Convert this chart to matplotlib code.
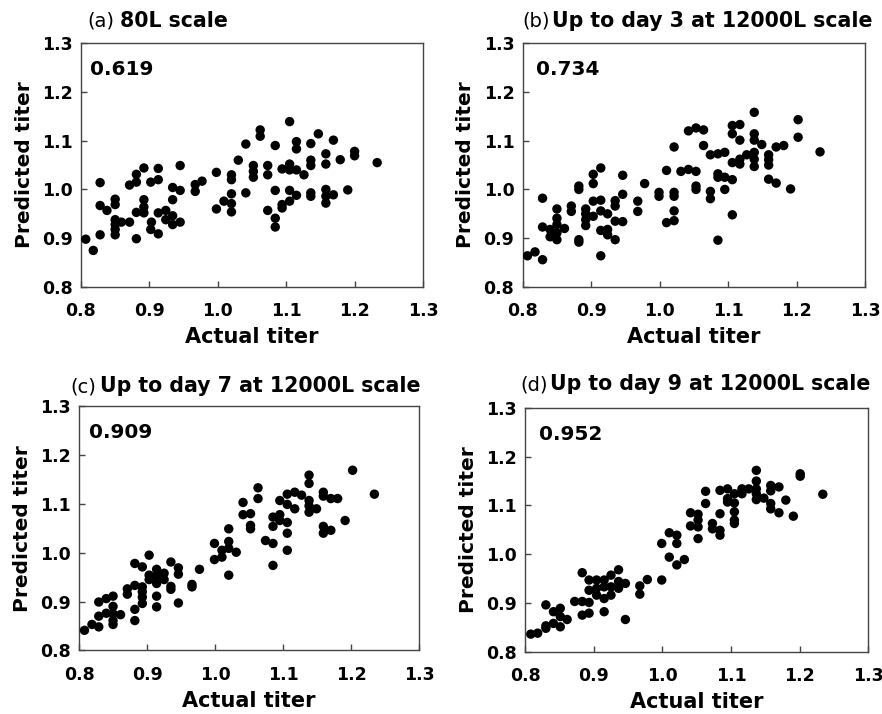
import matplotlib
matplotlib.use("Agg")
import matplotlib.pyplot as plt

plt.rcParams['font.family'] = ['DejaVu Sans']

# ---------------- data ----------------
a_actual = [0.807, 0.818, 0.828, 0.828, 0.828, 0.838, 0.850, 0.850, 0.850, 0.850, 0.850, 0.850,
            0.859, 0.871, 0.871, 0.881, 0.881, 0.881, 0.881, 0.892, 0.892, 0.892, 0.892, 0.902,
            0.903, 0.902, 0.913, 0.913, 0.913, 0.913, 0.924, 0.924, 0.934, 0.934, 0.934, 0.934,
            0.945, 0.945, 0.945, 0.967, 0.967, 0.977, 0.998, 0.998, 1.009, 1.020, 1.020, 1.020,
            1.020, 1.020, 1.030, 1.041, 1.041, 1.052, 1.052, 1.052, 1.062, 1.062, 1.073, 1.073,
            1.073, 1.084, 1.084, 1.084, 1.084, 1.094, 1.094, 1.094, 1.105, 1.105, 1.105, 1.105,
            1.105, 1.115, 1.115, 1.115, 1.115, 1.126, 1.136, 1.136, 1.136, 1.136, 1.136, 1.147,
            1.158, 1.158, 1.158, 1.158, 1.158, 1.169, 1.169, 1.179, 1.190, 1.200, 1.200, 1.233]
a_pred = [0.898, 0.875, 1.014, 0.967, 0.907, 0.957, 0.980, 0.969, 0.938, 0.928, 0.918, 0.907,
          0.933, 0.933, 1.009, 1.031, 1.015, 0.953, 0.899, 1.044, 0.979, 0.964, 0.952, 1.015,
          0.933, 0.918, 1.043, 1.020, 0.952, 0.909, 0.957, 0.938, 1.004, 0.979, 0.946, 0.928,
          1.049, 0.998, 0.933, 1.010, 0.996, 1.017, 1.035, 0.960, 0.976, 1.030, 1.020, 0.991,
          0.971, 0.954, 1.060, 1.093, 0.993, 1.049, 1.037, 1.025, 1.122, 1.109, 1.049, 1.030,
          0.957, 1.090, 0.998, 0.941, 0.923, 1.042, 0.969, 0.962, 1.139, 1.052, 1.040, 0.998,
          0.976, 1.098, 1.083, 1.040, 0.988, 1.030, 1.094, 1.060, 1.049, 0.993, 0.986, 1.114,
          1.073, 1.052, 1.000, 0.986, 0.972, 1.101, 0.989, 1.061, 0.999, 1.078, 1.069, 1.055]

b_actual = [0.807, 0.818, 0.829, 0.829, 0.829, 0.840, 0.840, 0.850, 0.850, 0.850, 0.850, 0.850,
            0.861, 0.871, 0.871, 0.882, 0.882, 0.882, 0.882, 0.892, 0.892, 0.892, 0.892, 0.903,
            0.903, 0.903, 0.903, 0.914, 0.914, 0.914, 0.914, 0.914, 0.924, 0.924, 0.924, 0.935,
            0.935, 0.935, 0.935, 0.946, 0.946, 0.946, 0.968, 0.968, 0.978, 0.999, 0.999, 1.010,
            1.010, 1.021, 1.021, 1.021, 1.021, 1.021, 1.031, 1.042, 1.042, 1.053, 1.053, 1.053,
            1.053, 1.064, 1.064, 1.074, 1.074, 1.074, 1.085, 1.085, 1.085, 1.085, 1.095, 1.095,
            1.095, 1.106, 1.106, 1.106, 1.106, 1.106, 1.117, 1.117, 1.117, 1.117, 1.127, 1.138,
            1.138, 1.138, 1.138, 1.138, 1.138, 1.149, 1.159, 1.159, 1.159, 1.159, 1.170, 1.170,
            1.181, 1.191, 1.202, 1.202, 1.234]
b_pred = [0.864, 0.872, 0.856, 0.982, 0.923, 0.918, 0.903, 0.960, 0.941, 0.928, 0.911, 0.897,
          0.920, 0.966, 0.955, 1.007, 1.000, 0.897, 0.892, 0.960, 0.950, 0.938, 0.926, 1.031,
          1.012, 0.976, 0.945, 1.044, 0.978, 0.956, 0.916, 0.864, 0.950, 0.918, 0.907, 0.977,
          0.966, 0.935, 0.897, 1.029, 0.990, 0.934, 0.976, 0.955, 1.012, 0.994, 0.986, 1.039,
          0.932, 1.087, 0.994, 0.986, 0.956, 0.936, 1.037, 1.120, 1.041, 1.126, 1.037, 1.007,
          1.000, 1.122, 1.090, 1.071, 0.996, 0.981, 1.073, 1.032, 1.025, 0.896, 1.076, 1.025,
          1.000, 1.131, 1.114, 1.055, 1.020, 0.948, 1.133, 1.101, 1.062, 1.052, 1.071, 1.158,
          1.114, 1.101, 1.076, 1.062, 1.047, 1.092, 1.071, 1.061, 1.050, 1.021, 1.013, 1.087,
          1.090, 1.001, 1.143, 1.107, 1.077]

c_actual = [0.808, 0.819, 0.829, 0.829, 0.829, 0.840, 0.840, 0.850, 0.850, 0.850, 0.850, 0.850,
            0.861, 0.871, 0.871, 0.882, 0.882, 0.882, 0.882, 0.893, 0.893, 0.893, 0.893, 0.893,
            0.903, 0.903, 0.903, 0.914, 0.914, 0.914, 0.914, 0.914, 0.925, 0.925, 0.935, 0.935,
            0.935, 0.946, 0.946, 0.946, 0.966, 0.966, 0.977, 0.999, 0.999, 1.010, 1.010, 1.020,
            1.020, 1.020, 1.020, 1.031, 1.041, 1.041, 1.052, 1.052, 1.052, 1.063, 1.063, 1.074,
            1.085, 1.085, 1.085, 1.085, 1.095, 1.095, 1.095, 1.106, 1.106, 1.106, 1.106, 1.106,
            1.117, 1.117, 1.127, 1.138, 1.138, 1.138, 1.138, 1.138, 1.149, 1.159, 1.159, 1.159,
            1.159, 1.170, 1.170, 1.180, 1.191, 1.202, 1.234]
c_pred = [0.841, 0.853, 0.899, 0.870, 0.848, 0.906, 0.876, 0.911, 0.890, 0.875, 0.861, 0.853,
          0.873, 0.926, 0.915, 0.978, 0.933, 0.884, 0.861, 0.971, 0.930, 0.920, 0.909, 0.896,
          0.995, 0.954, 0.945, 0.966, 0.952, 0.937, 0.911, 0.889, 0.958, 0.945, 0.981, 0.931,
          0.925, 0.969, 0.956, 0.897, 0.935, 0.930, 0.966, 1.019, 0.986, 1.005, 0.991, 1.049,
          1.023, 1.009, 0.954, 1.001, 1.103, 1.078, 1.080, 1.056, 1.049, 1.133, 1.111, 1.025,
          1.073, 1.054, 1.019, 0.974, 1.107, 1.078, 1.066, 1.120, 1.099, 1.062, 1.040, 1.005,
          1.124, 1.090, 1.118, 1.159, 1.142, 1.107, 1.096, 1.083, 1.090, 1.124, 1.116, 1.054,
          1.040, 1.111, 1.046, 1.111, 1.066, 1.169, 1.120]

d_actual = [0.808, 0.818, 0.830, 0.830, 0.830, 0.841, 0.841, 0.851, 0.851, 0.851, 0.861, 0.872,
            0.883, 0.883, 0.883, 0.893, 0.893, 0.893, 0.893, 0.904, 0.904, 0.904, 0.915, 0.915,
            0.915, 0.915, 0.925, 0.925, 0.925, 0.936, 0.936, 0.936, 0.946, 0.946, 0.967, 0.967,
            0.978, 0.999, 0.999, 1.010, 1.010, 1.021, 1.021, 1.021, 1.032, 1.041, 1.041, 1.052,
            1.052, 1.052, 1.052, 1.063, 1.063, 1.073, 1.073, 1.084, 1.084, 1.084, 1.084, 1.095,
            1.095, 1.095, 1.105, 1.105, 1.105, 1.105, 1.105, 1.116, 1.116, 1.126, 1.137, 1.137,
            1.137, 1.137, 1.137, 1.148, 1.158, 1.158, 1.158, 1.158, 1.170, 1.170, 1.180, 1.191,
            1.201, 1.201, 1.234]
d_pred = [0.836, 0.838, 0.896, 0.853, 0.848, 0.882, 0.858, 0.889, 0.872, 0.851, 0.866, 0.903,
          0.962, 0.903, 0.875, 0.947, 0.926, 0.901, 0.879, 0.947, 0.930, 0.916, 0.947, 0.933,
          0.909, 0.882, 0.957, 0.933, 0.916, 0.968, 0.944, 0.930, 0.940, 0.866, 0.935, 0.918,
          0.948, 0.947, 1.022, 1.044, 0.994, 1.039, 1.022, 0.978, 0.989, 1.085, 1.058, 1.082,
          1.070, 1.056, 1.032, 1.129, 1.104, 1.063, 1.052, 1.131, 1.083, 1.049, 1.039, 1.134,
          1.114, 1.107, 1.124, 1.105, 1.087, 1.070, 1.063, 1.134, 1.124, 1.134, 1.172, 1.150,
          1.134, 1.124, 1.112, 1.115, 1.141, 1.130, 1.104, 1.093, 1.138, 1.085, 1.111, 1.078,
          1.165, 1.160, 1.123]

panel_tags = ["(a)", "(b)", "(c)", "(d)"]
panel_titles = ["80L scale", "Up to day 3 at 12000L scale",
                "Up to day 7 at 12000L scale", "Up to day 9 at 12000L scale"]
r2_labels = ["0.619", "0.734", "0.909", "0.952"]
tick_values = [0.8, 0.9, 1.0, 1.1, 1.2, 1.3]
tick_labels = ["0.8", "0.9", "1.0", "1.1", "1.2", "1.3"]
x_label = "Actual titer"
y_label = "Predicted titer"

datasets = [(a_actual, a_pred), (b_actual, b_pred), (c_actual, c_pred), (d_actual, d_pred)]

# ---------------- layout ----------------
fig = plt.figure(figsize=(8.82, 7.14), dpi=100)
positions = [
    [0.0918, 0.598, 0.3878, 0.3417],
    [0.5926, 0.598, 0.3884, 0.3417],
    [0.0896, 0.0892, 0.3858, 0.3417],
    [0.5956, 0.0873, 0.3886, 0.3413],
]
title_x = [0.018, 0.0, -0.024, -0.015]
title_y = [1.066, 1.066, 1.058, 1.072]
title_gap = [4, 1.5, 2, 2]
r2_x = [0.026, 0.038, 0.030, 0.039]

for i, (xs, ys) in enumerate(datasets):
    ax = fig.add_axes(positions[i])
    ax.scatter(xs, ys, s=46, color="black", edgecolors="none", zorder=3)
    ax.set_xlim(0.8, 1.3)
    ax.set_ylim(0.8, 1.3)
    ax.set_xticks(tick_values)
    ax.set_xticklabels(tick_labels, fontsize=12.5, fontweight="bold")
    ax.set_yticks(tick_values)
    ax.set_yticklabels(tick_labels, fontsize=12.5, fontweight="bold")
    ax.tick_params(direction="in", length=4, width=1, color="#444444",
                   top=False, right=False)
    ax.tick_params(axis="x", pad=11)
    ax.tick_params(axis="y", pad=6)
    for sp in ax.spines.values():
        sp.set_color("#444444")
        sp.set_linewidth(1.0)
    ax.set_xlabel(x_label, fontsize=15, fontweight="bold", labelpad=5)
    ax.set_ylabel(y_label, fontsize=14.5, fontweight="bold", labelpad=6)
    ax.text(r2_x[i], 0.893, r2_labels[i], transform=ax.transAxes, fontsize=14.5,
            fontweight="bold", ha="left", va="center")
    t1 = ax.text(title_x[i], title_y[i], panel_tags[i], transform=ax.transAxes,
                 fontsize=14, ha="left", va="baseline")
    ax.annotate(panel_titles[i], xy=(1, 0), xycoords=t1, xytext=(title_gap[i], 0),
                textcoords="offset points", fontsize=14.8, fontweight="bold",
                ha="left", va="bottom")

fig.savefig("out.png", dpi=100)
